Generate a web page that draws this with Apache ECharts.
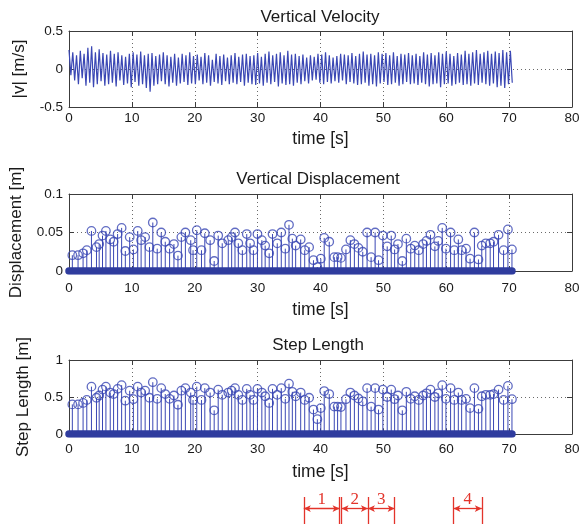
<!DOCTYPE html>
<html>
<head>
<meta charset="utf-8">
<script src="https://cdn.jsdelivr.net/npm/echarts@6/dist/echarts.min.js"></script>
<style>
html,body{margin:0;padding:0;background:#fff;}
#chart{width:584px;height:524px;}
</style>
</head>
<body>
<div id="chart"></div>
<script>
// ---- Vertical velocity, sampled every velDt seconds (m/s) ----
const velDt = 0.3;
const velocity = [
  0.25,-0.08,0.22,-0.15,0.18,-0.2,0.24,-0.12,0.2,-0.22,
  0.28,-0.18,0.3,-0.24,0.22,-0.2,0.26,-0.16,0.21,-0.22,
  0.19,-0.2,0.24,-0.18,0.2,-0.23,0.22,-0.15,0.18,-0.21,
  0.16,-0.19,0.2,-0.24,0.22,-0.17,0.19,-0.22,0.23,-0.2,
  0.18,-0.25,0.2,-0.3,0.21,-0.22,0.17,-0.2,0.19,-0.16,
  0.22,-0.2,0.18,-0.23,0.16,-0.18,0.2,-0.22,0.15,-0.19,
  0.2,-0.17,0.18,-0.21,0.22,-0.19,0.17,-0.2,0.19,-0.15,
  0.16,-0.2,0.21,-0.18,0.18,-0.22,0.12,-0.17,0.2,-0.19,
  0.17,-0.21,0.19,-0.16,0.15,-0.2,0.18,-0.18,0.21,-0.2,
  0.16,-0.17,0.19,-0.22,0.2,-0.18,0.17,-0.2,0.18,-0.21,
  0.21,-0.19,0.16,-0.22,0.2,-0.18,0.23,-0.2,0.18,-0.17,
  0.2,-0.23,0.22,-0.19,0.18,-0.21,0.24,-0.2,0.19,-0.22,
  0.2,-0.18,0.17,-0.2,0.19,-0.16,0.15,-0.19,0.18,-0.15,
  0.16,-0.14,0.2,-0.18,0.19,-0.2,0.22,-0.17,0.18,-0.19,
  0.15,-0.16,0.17,-0.18,0.2,-0.15,0.19,-0.2,0.18,-0.17,
  0.21,-0.19,0.17,-0.21,0.2,-0.2,0.23,-0.18,0.19,-0.22,
  0.2,-0.2,0.18,-0.23,0.22,-0.19,0.2,-0.17,0.21,-0.21,
  0.18,-0.2,0.22,-0.18,0.17,-0.22,0.2,-0.2,0.19,-0.17,
  0.21,-0.2,0.18,-0.19,0.2,-0.21,0.17,-0.18,0.22,-0.2,
  0.19,-0.23,0.21,-0.2,0.18,-0.19,0.22,-0.24,0.2,-0.2,
  0.23,-0.19,0.2,-0.22,0.17,-0.2,0.21,-0.18,0.19,-0.21,
  0.24,-0.2,0.2,-0.22,0.22,-0.19,0.25,-0.21,0.2,-0.18,
  0.22,-0.2,0.24,-0.22,0.2,-0.19,0.23,-0.24,0.21,-0.22,
  0.25,-0.25,0.22,-0.2,0.24,-0.18
];

// ---- Detected steps: time (s), vertical displacement (m), step length (m) ----
const stepTime = [
  0.53,1.44,2.24,2.83,3.57,4.37,4.80,5.33,5.87,6.56,7.09,7.73,8.37,8.96,9.65,
  10.24,10.93,11.47,12.11,12.80,13.33,14.03,14.67,15.31,16.00,16.69,17.33,17.87,
  18.51,19.36,19.73,20.32,21.07,21.60,22.45,23.09,23.73,24.37,25.33,25.87,26.40,
  26.93,27.57,28.27,28.80,29.33,29.97,30.67,31.20,31.84,32.37,33.12,33.76,34.40,
  34.99,35.52,36.05,36.85,37.49,38.19,38.88,39.50,40.05,40.59,41.39,42.19,42.72,
  43.25,44.05,44.75,45.39,46.03,46.72,47.41,48.05,48.69,49.23,49.92,50.61,51.25,
  51.79,52.32,53.01,53.65,54.35,54.99,55.63,56.32,56.85,57.49,58.19,58.72,59.36,
  59.95,60.69,61.28,61.92,62.45,63.15,63.79,64.48,65.12,65.65,66.29,66.99,67.52,
  68.32,69.12,69.81,70.45
];
const stepDisp = [
  0.0205,0.0205,0.023,0.027,0.052,0.031,0.035,0.046,0.052,0.041,0.038,0.048,0.056,0.026,0.044,
  0.028,0.052,0.040,0.044,0.031,0.063,0.029,0.050,0.038,0.029,0.035,0.020,0.044,
  0.050,0.040,0.027,0.053,0.027,0.049,0.040,0.013,0.046,0.036,0.040,0.044,0.050,
  0.036,0.027,0.048,0.036,0.027,0.048,0.040,0.033,0.023,0.048,0.036,0.050,0.029,
  0.060,0.042,0.033,0.041,0.027,0.031,0.014,0.005,0.016,0.043,0.038,0.018,0.018,
  0.017,0.028,0.040,0.035,0.030,0.025,0.050,0.018,0.050,0.014,0.046,0.032,0.046,
  0.028,0.035,0.013,0.042,0.029,0.033,0.027,0.035,0.039,0.047,0.032,0.039,0.056,
  0.029,0.050,0.027,0.041,0.027,0.029,0.016,0.050,0.015,0.033,0.036,0.036,0.038,
  0.047,0.027,0.054,0.028
];
const stepLength = [
  0.40,0.40,0.42,0.46,0.64,0.49,0.52,0.60,0.64,0.56,0.54,0.61,0.66,0.45,0.585,
  0.47,0.64,0.56,0.585,0.49,0.70,0.475,0.62,0.54,0.475,0.52,0.395,0.585,
  0.62,0.56,0.46,0.64,0.46,0.62,0.56,0.32,0.60,0.53,0.56,0.585,0.62,
  0.53,0.46,0.61,0.53,0.46,0.61,0.56,0.51,0.42,0.61,0.53,0.62,0.475,
  0.68,0.57,0.51,0.56,0.46,0.49,0.33,0.20,0.35,0.58,0.54,0.37,0.37,
  0.365,0.47,0.56,0.52,0.48,0.44,0.62,0.37,0.62,0.33,0.60,0.50,0.60,
  0.47,0.52,0.32,0.57,0.475,0.51,0.46,0.52,0.55,0.60,0.50,0.55,0.66,
  0.475,0.62,0.46,0.56,0.46,0.475,0.35,0.62,0.34,0.51,0.53,0.53,0.54,
  0.60,0.46,0.65,0.47
];

// ---- Interval markers under the bottom plot: boundaries (s) and labelled spans ----
const markerTimes = [37.34, 43.03, 43.35, 47.54, 51.79, 61.15, 65.66];
const markerSpans = [
  ['1', 37.34, 43.03],
  ['2', 43.35, 47.54],
  ['3', 47.54, 51.79],
  ['4', 61.15, 65.66]
];

// ---- Axis ranges and tick spacing ----
const timeRange = [0, 80, 10];
const velRange = [-0.5, 0.5, 0.5];
const dispRange = [0, 0.1, 0.05];
const lenRange = [0, 1, 0.5];

const FONT = 'Liberation Sans, Arial, sans-serif';
const frameColor = '#3c3c3c';
const dotColor = '#6a6a6a';
const blue = '#3a47b4';
const baseBlue = '#2f3c9e';
const red = '#e3342b';
const textColor = '#1a1a1a';

function xAxes(grid, nameGap, labelMargin) {
  const common = {
    type: 'value', gridIndex: grid,
    min: timeRange[0], max: timeRange[1], interval: timeRange[2],
    axisLine: { show: true, onZero: false, lineStyle: { color: frameColor, width: 1 } },
    axisTick: { show: true, inside: true, length: 5, lineStyle: { color: frameColor } }
  };
  return [
    Object.assign({}, common, {
      position: 'bottom',
      axisLabel: { fontFamily: FONT, fontSize: 13.5, color: textColor, margin: labelMargin },
      splitLine: { show: true, lineStyle: { type: [1, 3], color: dotColor, width: 1 } },
      name: 'time [s]', nameLocation: 'middle', nameGap: nameGap,
      nameTextStyle: { fontFamily: FONT, fontSize: 17.5, color: textColor }
    }),
    Object.assign({}, common, {
      position: 'top',
      axisLabel: { show: false },
      splitLine: { show: false }
    })
  ];
}

function yAxes(grid, range, name, nameGap) {
  const common = {
    type: 'value', gridIndex: grid,
    min: range[0], max: range[1], interval: range[2],
    axisLine: { show: true, onZero: false, lineStyle: { color: frameColor, width: 1 } },
    axisTick: { show: true, inside: true, length: 5, lineStyle: { color: frameColor } }
  };
  return [
    Object.assign({}, common, {
      position: 'left',
      axisLabel: { fontFamily: FONT, fontSize: 13.5, color: textColor, margin: 6 },
      splitLine: { show: true, lineStyle: { type: [1, 3], color: dotColor, width: 1 } },
      name: name, nameLocation: 'middle', nameGap: nameGap, nameRotate: 90,
      nameTextStyle: { fontFamily: FONT, fontSize: 17, color: textColor }
    }),
    Object.assign({}, common, {
      position: 'right',
      axisLabel: { show: false },
      splitLine: { show: false }
    })
  ];
}

function stemSeries(xi, yi, values) {
  return {
    type: 'custom', xAxisIndex: xi, yAxisIndex: yi, silent: true,
    data: stepTime.map((t, i) => [t, values[i]]),
    encode: { x: 0, y: 1 },
    renderItem: function (params, api) {
      const p0 = api.coord([api.value(0), 0]);
      const p1 = api.coord([api.value(0), api.value(1)]);
      return {
        type: 'line',
        shape: { x1: p0[0], y1: p0[1], x2: p1[0], y2: p1[1] },
        style: { stroke: blue, lineWidth: 1 }
      };
    },
    z: 2
  };
}

function headSeries(xi, yi, values) {
  return {
    type: 'scatter', xAxisIndex: xi, yAxisIndex: yi, silent: true,
    data: stepTime.map((t, i) => [t, values[i]]),
    symbol: 'circle', symbolSize: 8.5,
    itemStyle: { color: 'rgba(0,0,0,0)', borderColor: blue, borderWidth: 1.3 },
    z: 3
  };
}

function baseSeries(xi, yi) {
  return {
    type: 'line', xAxisIndex: xi, yAxisIndex: yi, silent: true,
    data: [[0, 0], [stepTime[stepTime.length - 1], 0]],
    showSymbol: false,
    lineStyle: { color: baseBlue, width: 7.5, cap: 'round' },
    z: 4
  };
}

const velData = velocity.map((v, i) => [+(i * velDt).toFixed(2), v]);

const chart = echarts.init(document.getElementById('chart'), null, { renderer: 'canvas' });

const titleStyle = { font: '17px ' + FONT, fill: textColor, textAlign: 'center', textVerticalAlign: 'middle' };

const option = {
  animation: false,
  backgroundColor: '#ffffff',
  grid: [
    { left: 69, width: 503, top: 31, height: 76 },
    { left: 69, width: 503, top: 194, height: 77 },
    { left: 69, width: 503, top: 360, height: 74 },
    { left: 69, width: 503, top: 497, height: 27 }
  ],
  xAxis: [].concat(
    xAxes(0, 23, 4),
    xAxes(1, 30, 10),
    xAxes(2, 29, 8),
    [{ type: 'value', gridIndex: 3, min: timeRange[0], max: timeRange[1], show: false }]
  ),
  yAxis: [].concat(
    yAxes(0, velRange, '|v| [m/s]', 41),
    yAxes(1, dispRange, 'Displacement [m]', 44),
    yAxes(2, lenRange, 'Step Length [m]', 37),
    [{ type: 'value', gridIndex: 3, min: 0, max: 1, show: false }]
  ),
  graphic: [
    { type: 'text', x: 320, y: 17, style: Object.assign({ text: 'Vertical Velocity' }, titleStyle) },
    { type: 'text', x: 318, y: 179, style: Object.assign({ text: 'Vertical Displacement' }, titleStyle) },
    { type: 'text', x: 318, y: 345, style: Object.assign({ text: 'Step Length' }, titleStyle) }
  ],
  series: [
    {
      type: 'line', xAxisIndex: 0, yAxisIndex: 0, silent: true,
      data: velData, showSymbol: false,
      lineStyle: { color: blue, width: 1.2 }
    },
    stemSeries(2, 2, stepDisp),
    headSeries(2, 2, stepDisp),
    baseSeries(2, 2),
    stemSeries(4, 4, stepLength),
    headSeries(4, 4, stepLength),
    baseSeries(4, 4),
    {
      type: 'line', xAxisIndex: 6, yAxisIndex: 6, silent: true, data: [],
      markLine: {
        silent: true, animation: false,
        symbol: 'none',
        lineStyle: { color: red, width: 1.3, type: 'solid' },
        label: { show: false },
        data: markerTimes.map(t => ({ xAxis: t }))
      }
    },
    {
      type: 'line', xAxisIndex: 6, yAxisIndex: 6, silent: true, data: [],
      markLine: {
        silent: true, animation: false,
        symbol: ['arrow', 'arrow'], symbolSize: [5, 7],
        lineStyle: { color: red, width: 1.3, type: 'solid' },
        label: {
          show: true, position: 'middle', formatter: '{b}', distance: 1,
          fontFamily: 'Liberation Serif, DejaVu Serif, serif', fontSize: 17, color: red
        },
        data: markerSpans.map(s => [
          { name: s[0], coord: [s[1], 0.57] },
          { coord: [s[2], 0.57] }
        ])
      }
    }
  ]
};

chart.setOption(option);
</script>
</body>
</html>
